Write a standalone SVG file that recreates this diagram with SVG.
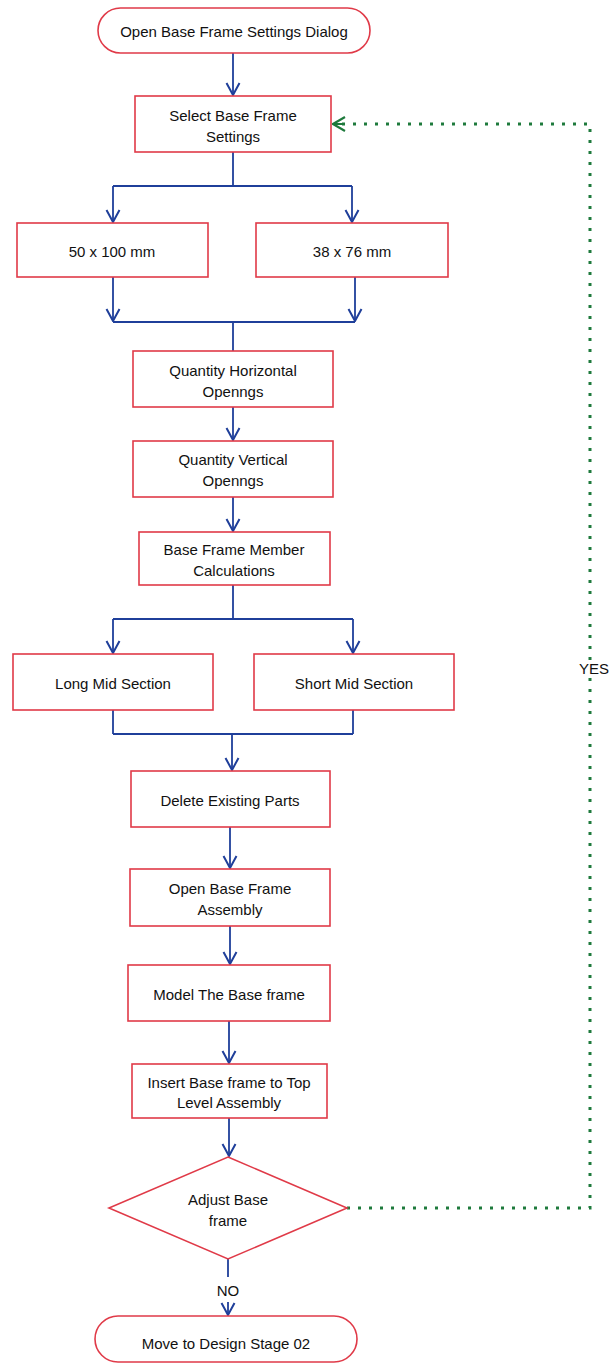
<svg xmlns="http://www.w3.org/2000/svg" width="611" height="1367" viewBox="0 0 611 1367">
<style>
.box{fill:#fff;stroke:#e03a48;stroke-width:1.6}
.t{font-family:"Liberation Sans",Arial,sans-serif;font-size:15px;fill:#111;text-anchor:middle;dominant-baseline:central}
.c{fill:none;stroke:#1f3f9a;stroke-width:1.8}
.g{fill:none;stroke:#1e7a3c;stroke-width:3;stroke-dasharray:3,8}
</style>
<defs>
<marker id="ab" viewBox="-1 -8 14 16" markerWidth="14" markerHeight="16" refX="12" refY="0" orient="auto" markerUnits="userSpaceOnUse">
<path d="M0,-6.5 L12,0 L0,6.5" fill="none" stroke="#1f3f9a" stroke-width="2"/>
</marker>
<marker id="ag" viewBox="-1 -8 14 16" markerWidth="14" markerHeight="16" refX="12" refY="0" orient="auto" markerUnits="userSpaceOnUse">
<path d="M0,-7 L12,0 L0,7" fill="none" stroke="#1e7a3c" stroke-width="2.2"/>
</marker>
</defs>
<rect width="611" height="1367" fill="#fff"/>
<g id="connectors">
<path class="c" d="M233,53 V95" marker-end="url(#ab)"/>
<path class="c" d="M233,152 V186 M113,186 H352"/>
<path class="c" d="M113,186 V222" marker-end="url(#ab)"/>
<path class="c" d="M352,186 V222" marker-end="url(#ab)"/>
<path class="c" d="M113,277 V321" marker-end="url(#ab)"/>
<path class="c" d="M355,277 V321" marker-end="url(#ab)"/>
<path class="c" d="M113,322 H355 M233,322 V351"/>
<path class="c" d="M233,407 V440" marker-end="url(#ab)"/>
<path class="c" d="M233,497 V531" marker-end="url(#ab)"/>
<path class="c" d="M233,585 V619 M113,619 H353"/>
<path class="c" d="M113,619 V653" marker-end="url(#ab)"/>
<path class="c" d="M353,619 V653" marker-end="url(#ab)"/>
<path class="c" d="M113,710 V734 M353,710 V734 M113,734 H353"/>
<path class="c" d="M232,734 V770" marker-end="url(#ab)"/>
<path class="c" d="M230,827 V868" marker-end="url(#ab)"/>
<path class="c" d="M230,926 V964" marker-end="url(#ab)"/>
<path class="c" d="M229,1021 V1063" marker-end="url(#ab)"/>
<path class="c" d="M229,1118 V1156" marker-end="url(#ab)"/>
<path class="c" d="M228,1259 V1277"/>
<path class="c" d="M228,1302 V1315" marker-end="url(#ab)"/>
<text class="t" x="228" y="1290">NO</text>
<path class="g" d="M347,1208 H590 V676"/>
<path class="g" d="M590,660 V124 H335"/>
<path d="M345,124 H333" fill="none" stroke="#1e7a3c" stroke-width="2" marker-end="url(#ag)"/>
<text class="t" x="594" y="668">YES</text>
</g>
<g id="start"><rect class="box" x="98" y="8" width="272" height="45" rx="22.5"/><text class="t" x="234" y="31">Open Base Frame Settings Dialog</text></g>
<g id="select"><rect class="box" x="135" y="96" width="196" height="56"/><text class="t" x="233" y="115">Select Base Frame</text><text class="t" x="233" y="136">Settings</text></g>
<g id="size50"><rect class="box" x="17" y="223" width="191" height="54"/><text class="t" x="112" y="251">50 x 100 mm</text></g>
<g id="size38"><rect class="box" x="256" y="223" width="192" height="54"/><text class="t" x="352" y="251">38 x 76 mm</text></g>
<g id="qh"><rect class="box" x="133" y="351" width="200" height="56"/><text class="t" x="233" y="370">Quantity Horizontal</text><text class="t" x="233" y="391">Openngs</text></g>
<g id="qv"><rect class="box" x="133" y="441" width="200" height="56"/><text class="t" x="233" y="459">Quantity Vertical</text><text class="t" x="233" y="480">Openngs</text></g>
<g id="bfm"><rect class="box" x="139" y="532" width="191" height="53"/><text class="t" x="234" y="549">Base Frame Member</text><text class="t" x="234" y="570">Calculations</text></g>
<g id="long"><rect class="box" x="13" y="654" width="200" height="56"/><text class="t" x="113" y="683">Long Mid Section</text></g>
<g id="short"><rect class="box" x="254" y="654" width="200" height="56"/><text class="t" x="354" y="683">Short Mid Section</text></g>
<g id="delete"><rect class="box" x="131" y="771" width="199" height="56"/><text class="t" x="230" y="800">Delete Existing Parts</text></g>
<g id="openasm"><rect class="box" x="130" y="869" width="200" height="57"/><text class="t" x="230" y="888">Open Base Frame</text><text class="t" x="230" y="909">Assembly</text></g>
<g id="model"><rect class="box" x="128" y="965" width="202" height="56"/><text class="t" x="229" y="994">Model The Base frame</text></g>
<g id="insert"><rect class="box" x="132" y="1064" width="195" height="54"/><text class="t" x="229" y="1082">Insert Base frame to Top</text><text class="t" x="229" y="1102">Level Assembly</text></g>
<g id="adjust"><polygon class="box" points="228,1157 347,1208 228,1259 109,1208"/><text class="t" x="228" y="1199">Adjust Base</text><text class="t" x="228" y="1220">frame</text></g>
<g id="end"><rect class="box" x="95" y="1316" width="262" height="46" rx="23"/><text class="t" x="226" y="1343">Move to Design Stage 02</text></g>
</svg>
